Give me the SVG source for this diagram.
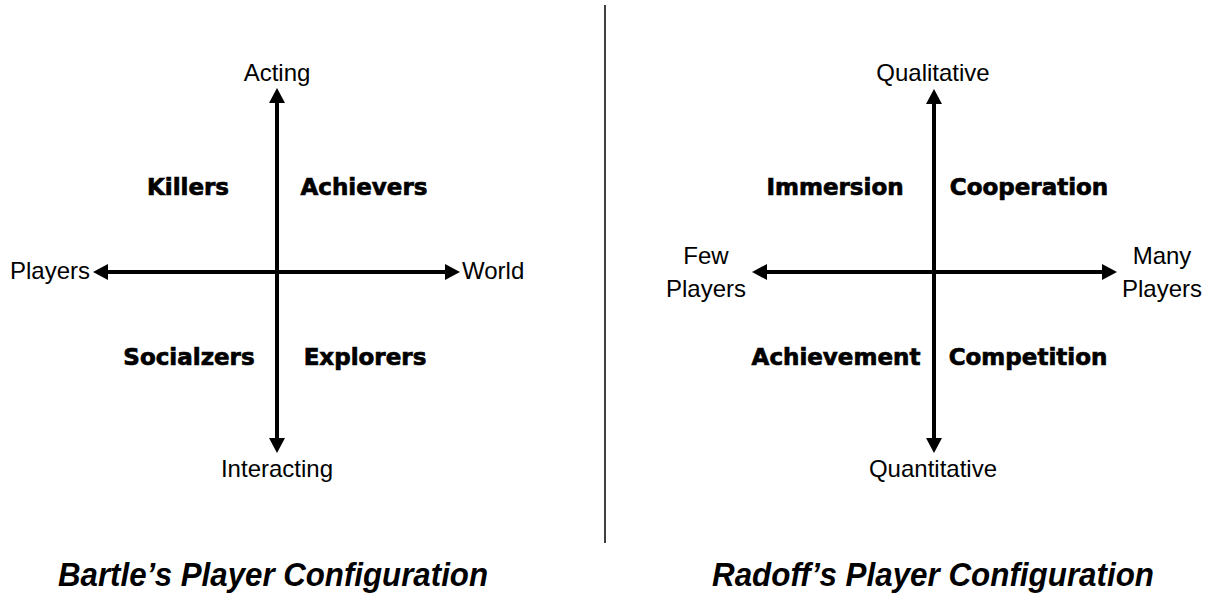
<svg xmlns="http://www.w3.org/2000/svg" width="1212" height="596" viewBox="0 0 1212 596">
<style>
.ax{font-family:"Liberation Sans",Arial,sans-serif;font-size:24px;fill:#000}
.q{font-family:"DejaVu Sans","Liberation Sans",sans-serif;font-weight:bold;font-size:23px;fill:#000;stroke:#000;stroke-width:0.7;text-anchor:middle}
.t{font-family:"Liberation Sans",Arial,sans-serif;font-weight:bold;font-style:italic;font-size:34px;fill:#000;text-anchor:middle}
.axis{stroke:#000;stroke-width:4;fill:none}
.mid{text-anchor:middle}
</style>
<defs>
<marker id="ah" markerUnits="userSpaceOnUse" viewBox="0 0 15 16" markerWidth="15" markerHeight="16" refX="3" refY="8" orient="auto-start-reverse">
<path d="M0,0 L15,8 L0,16 z" fill="#000"/>
</marker>
</defs>
<rect width="1212" height="596" fill="#fff"/>
<g id="connectors">
<line class="axis" x1="277" y1="100" x2="277" y2="441" marker-start="url(#ah)" marker-end="url(#ah)"/>
<line class="axis" x1="105" y1="272" x2="448" y2="272" marker-start="url(#ah)" marker-end="url(#ah)"/>
<line class="axis" x1="934" y1="101" x2="934" y2="441" marker-start="url(#ah)" marker-end="url(#ah)"/>
<line class="axis" x1="764" y1="272" x2="1105" y2="272" marker-start="url(#ah)" marker-end="url(#ah)"/>
<line x1="605" y1="5" x2="605" y2="543" stroke="#000" stroke-width="1.5"/>
</g>
<g id="bartle">
<g id="acting"><text class="ax mid" x="277" y="81">Acting</text></g>
<g id="interacting"><text class="ax mid" x="277" y="477">Interacting</text></g>
<g id="players"><text class="ax" x="10" y="279">Players</text></g>
<g id="world"><text class="ax" x="462" y="279">World</text></g>
<g id="killers"><text class="q" x="188" y="195">Killers</text></g>
<g id="achievers"><text class="q" x="364" y="195">Achievers</text></g>
<g id="socialzers"><text class="q" x="189" y="365">Socialzers</text></g>
<g id="explorers"><text class="q" x="365" y="365">Explorers</text></g>
<g id="bartle-title"><text class="t" x="273" y="586" textLength="430" lengthAdjust="spacingAndGlyphs">Bartle’s Player Configuration</text></g>
</g>
<g id="radoff">
<g id="qualitative"><text class="ax mid" x="933" y="81">Qualitative</text></g>
<g id="quantitative"><text class="ax mid" x="933" y="477">Quantitative</text></g>
<g id="few-players"><text class="ax mid" x="706" y="264">Few</text><text class="ax mid" x="706" y="297">Players</text></g>
<g id="many-players"><text class="ax mid" x="1162" y="264">Many</text><text class="ax mid" x="1162" y="297">Players</text></g>
<g id="immersion"><text class="q" x="835" y="195">Immersion</text></g>
<g id="cooperation"><text class="q" x="1029" y="195">Cooperation</text></g>
<g id="achievement"><text class="q" x="836" y="365">Achievement</text></g>
<g id="competition"><text class="q" x="1028" y="365">Competition</text></g>
<g id="radoff-title"><text class="t" x="933" y="586" textLength="442" lengthAdjust="spacingAndGlyphs">Radoff’s Player Configuration</text></g>
</g>
</svg>
